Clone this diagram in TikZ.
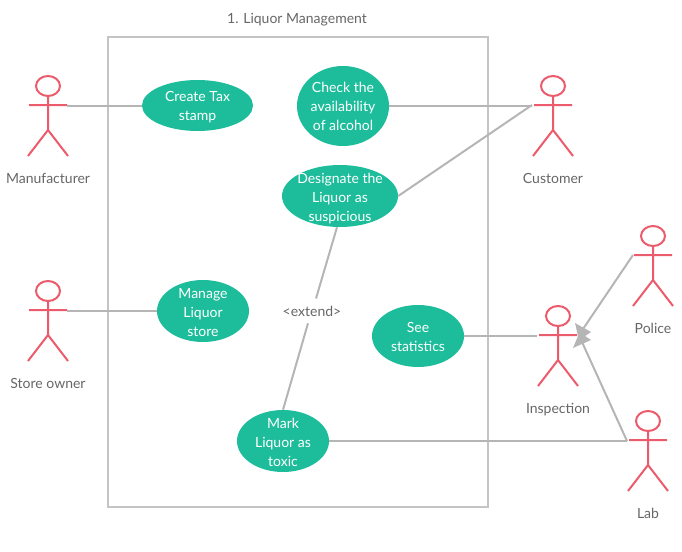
\documentclass[tikz,border=0pt]{standalone}
\usepackage{fontspec}
\setmainfont{Lato}
\usetikzlibrary{calc,shapes.geometric}
\definecolor{uc}{HTML}{1DBD9B}
\definecolor{act}{HTML}{EC5B6C}
\definecolor{lnk}{HTML}{B5B5B5}
\definecolor{frm}{HTML}{C4C4C4}
\definecolor{txt}{HTML}{666666}
\tikzset{
  x=1pt,y=-1pt,
  usecase/.style={ellipse,fill=uc,inner sep=0pt},
  uctext/.style={text=white,inner sep=0pt,align=center,font=\fontsize{14}{19}\selectfont},
  lbl/.style={text=txt,inner sep=0pt,anchor=base,font=\fontsize{14}{19}\selectfont},
  link/.style={draw=lnk,line width=2pt},
  tip/.style={fill=lnk,draw=none},
  actor/.pic={
    \draw[act,line width=2pt] (0,-19) ellipse [x radius=12,y radius=10];
    \draw[act,line width=2pt] (0,-9) -- (0,25) -- (-20,51) (0,25) -- (20,51) (-19,0) -- (19,0);
    \coordinate (-l) at (-19,0);
    \coordinate (-r) at (19,0);
  }
}
\begin{document}
\begin{tikzpicture}
\useasboundingbox (0,0) rectangle (682,551);
\node[draw=frm,line width=2pt,minimum width=380pt,minimum height=470pt,inner sep=0pt] (sys) at (298,272) {};
\node[lbl] (title) at (297,23.7) {1. Liquor Management};

\pic (man) at (48,105) {actor};
\pic (cus) at (553,105) {actor};
\pic (sto) at (48,310) {actor};
\pic (ins) at (558,335) {actor};
\pic (pol) at (653,255) {actor};
\pic (lab) at (648,440) {actor};
\node[lbl] (manl) at (48,183) {Manufacturer};
\node[lbl] (cusl) at (553,183) {Customer};
\node[lbl] (stol) at (48,388) {Store owner};
\node[lbl] (insl) at (558,413) {Inspection};
\node[lbl] (poll) at (653,333) {Police};
\node[lbl] (labl) at (648,518) {Lab};

\node[usecase,minimum width=111pt,minimum height=51pt,label={[uctext,yshift=-1.5pt,name=taxt]center:Create Tax\\stamp}] (tax) at (197.5,105.5) {};
\node[usecase,minimum width=92pt,minimum height=80pt,label={[uctext,yshift=-0.5pt,name=chkt]center:Check the\\availability\\of alcohol}] (chk) at (343,106) {};
\node[usecase,minimum width=116pt,minimum height=62pt,label={[uctext,yshift=-2.5pt,name=dest]center:Designate the\\Liquor as\\suspicious}] (des) at (340,196) {};
\node[usecase,minimum width=92pt,minimum height=62pt,label={[uctext,yshift=-1.5pt,name=mngt]center:Manage\\Liquor\\store}] (mng) at (203,311) {};
\node[usecase,minimum width=92pt,minimum height=62pt,label={[uctext,yshift=-0.5pt,name=seet]center:See\\statistics}] (see) at (418,336) {};
\node[usecase,minimum width=92pt,minimum height=62pt,label={[uctext,yshift=-1.5pt,name=mrkt]center:Mark\\Liquor as\\toxic}] (mrk) at (283,441) {};
\node[lbl] (ext) at (312,316) {<extend>};

\draw[link] (man-r |- tax.west) -- (tax.west);
\draw[link] (sto-r |- mng.west) -- (mng.west);
\draw[link] (chk.east) -- ($(cus-l |- chk.east)+(-2,0)$);
\draw[link] (des.east) -- ($(cus-l)+(-2,0)$);
\draw[link] ($(des.south)+(-3,0)$) -- ($(ext.north)+(4,-7)$);
\draw[link] ($(ext.south)+(-4,7)$) -- (mrk.north);
\draw[link] (see.east) -- ($(ins-l |- see.east)+(-2,0)$);
\draw[link] (mrk.east) -- ($(lab-l |- mrk.east)+(-2,0)$);
\coordinate (pb) at (583,329);
\coordinate (lb) at (582,342);
\draw[link] ($(pol-l)+(-1,0)$) -- (pb);
\draw[link] ($(lab-l |- mrk.east)+(-2,0)$) -- (lb);
\draw[act,line width=2pt] (ins-l) -- (ins-r);
\fill[tip] (575,323) -- (591,332) -- (585,336) -- (591,340) -- (573,348) -- (578,336) -- cycle;
\end{tikzpicture}
\end{document}
